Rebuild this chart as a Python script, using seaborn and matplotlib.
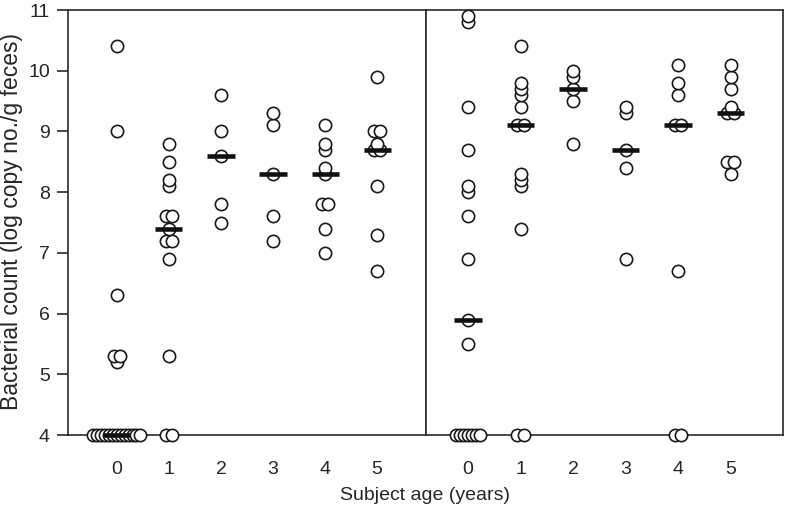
import numpy as np
import pandas as pd
import matplotlib
matplotlib.use("Agg")
import matplotlib.pyplot as plt
import seaborn as sns

ages = [0, 1, 2, 3, 4, 5]
panels = ["left", "right"]

# bacterial counts (log copy no./g feces)
left_0 = [10.4, 9.0, 6.3, 5.3, 5.3, 5.2] + [4.0] * 13
left_1 = [8.8, 8.5, 8.2, 8.1, 7.6, 7.6, 7.4, 7.2, 7.2, 6.9, 5.3, 4.0, 4.0]
left_2 = [9.6, 9.0, 8.6, 7.8, 7.5]
left_3 = [9.3, 9.1, 8.3, 7.6, 7.2]
left_4 = [9.1, 8.8, 8.7, 8.4, 8.3, 7.8, 7.8, 7.4, 7.0]
left_5 = [9.9, 9.0, 9.0, 8.8, 8.7, 8.7, 8.1, 7.3, 6.7]

right_0 = [10.9, 10.8, 9.4, 8.7, 8.1, 8.0, 7.6, 6.9, 5.9, 5.5] + [4.0] * 7
right_1 = [10.4, 9.8, 9.7, 9.6, 9.4, 9.1, 9.1, 8.3, 8.2, 8.1, 7.4, 4.0, 4.0]
right_2 = [10.0, 9.9, 9.7, 9.5, 8.8]
right_3 = [9.4, 9.3, 8.7, 8.4, 6.9]
right_4 = [10.1, 9.8, 9.6, 9.1, 9.1, 6.7, 4.0, 4.0]
right_5 = [10.1, 9.9, 9.7, 9.4, 9.3, 9.3, 8.5, 8.5, 8.3]

groups = {
    "left": [left_0, left_1, left_2, left_3, left_4, left_5],
    "right": [right_0, right_1, right_2, right_3, right_4, right_5],
}

rows = []
for p in panels:
    for a, vals in zip(ages, groups[p]):
        for v in vals:
            rows.append((p, a, v))
df = pd.DataFrame(rows, columns=["panel", "age", "value"])

# spread tied values sideways (centred on the category)
df["k"] = df.groupby(["panel", "age", "value"]).cumcount()
df["n"] = df.groupby(["panel", "age", "value"])["value"].transform("size")
step = np.where(df["n"] <= 2, 0.115, 0.075)
df["xpos"] = df["age"] + (df["k"] - (df["n"] - 1) / 2) * step
df = df.sort_values(["panel", "age", "value", "k"])

sns.set_style("white")
plt.rcParams["font.family"] = ["Liberation Sans Narrow", "Liberation Sans", "DejaVu Sans"]

fig = plt.figure(figsize=(7.88, 5.05), dpi=100)
ax1 = fig.add_axes([68 / 788, 70 / 505, 358 / 788, 425 / 505])
ax2 = fig.add_axes([426 / 788, 70 / 505, 357 / 788, 425 / 505])

for ax, p, xl in [(ax1, "left", (-0.94, 5.94)), (ax2, "right", (-0.8, 6.0))]:
    sub = df[df["panel"] == p]
    sns.scatterplot(data=sub, x="xpos", y="value", ax=ax, marker="o", s=78,
                    facecolor="white", edgecolor="#1a1a1a", linewidth=1.2,
                    clip_on=False, zorder=3, legend=False)
    med = sub.groupby("age")["value"].median()
    ax.hlines(med.values, med.index - 0.26, med.index + 0.26, color="#111111",
              linewidth=3.3, zorder=4, clip_on=False)
    ax.set_xlim(*xl)
    ax.set_ylim(4, 11)
    ax.set_xticks(ages)
    ax.set_xticklabels([str(a) for a in ages])
    ax.set_xlabel("")
    ax.set_ylabel("")
    ax.tick_params(axis="x", length=0, pad=19, labelsize=14)
    for s in ax.spines.values():
        s.set_linewidth(1.2)
        s.set_color("#2a2a2a")

ax1.set_yticks(range(4, 12))
ax1.tick_params(axis="y", left=True, length=8, width=1.2, color="#2a2a2a",
                labelsize=14, pad=5)
ax2.set_yticks(range(4, 12))
ax2.tick_params(axis="y", left=False, labelleft=False)

fig.text((68 + 783) / 2 / 788, 1 - 495 / 505, "Subject age (years)",
         ha="center", va="center", fontsize=14)
fig.text(12 / 788, 1 - 222 / 505, "Bacterial count (log copy no./g feces)",
         ha="center", va="center", rotation=90, fontsize=16.5)

fig.savefig("out.png", dpi=100)
